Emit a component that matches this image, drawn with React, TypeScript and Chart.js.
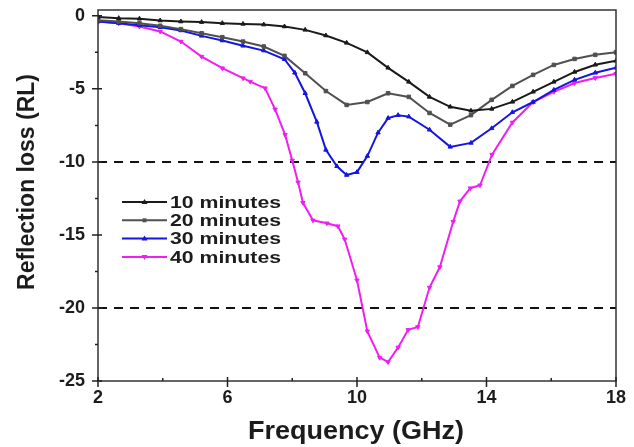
import React, { useEffect, useRef } from "react";
import { Chart, registerables } from "chart.js";

Chart.register(...registerables);

// ---- data ----
const seriesLabels = ["10 minutes", "20 minutes", "30 minutes", "40 minutes"];

const freq10 = [2.0, 2.64, 3.28, 3.92, 4.56, 5.2, 5.84, 6.48, 7.12, 7.76, 8.4, 9.04, 9.68, 10.32, 10.96, 11.6, 12.24, 12.88, 13.52, 14.16, 14.8, 15.44, 16.08, 16.72, 17.36, 18.0];
const rl10 = [-0.08, -0.16, -0.2, -0.32, -0.39, -0.43, -0.5, -0.55, -0.6, -0.73, -0.96, -1.35, -1.85, -2.5, -3.56, -4.52, -5.55, -6.23, -6.5, -6.37, -5.89, -5.2, -4.52, -3.84, -3.35, -3.08];

const freq20 = [2.0, 2.64, 3.28, 3.92, 4.56, 5.2, 5.84, 6.48, 7.12, 7.76, 8.4, 9.04, 9.68, 10.32, 10.96, 11.6, 12.24, 12.88, 13.52, 14.16, 14.8, 15.44, 16.08, 16.72, 17.36, 18.0];
const rl20 = [-0.3, -0.39, -0.5, -0.68, -0.91, -1.19, -1.46, -1.76, -2.1, -2.74, -3.93, -5.15, -6.1, -5.9, -5.3, -5.55, -6.65, -7.45, -6.8, -5.75, -4.8, -4.04, -3.36, -2.95, -2.67, -2.5];

const freq30 = [2.0, 2.64, 3.28, 3.92, 4.56, 5.2, 5.84, 6.48, 7.12, 7.76, 8.08, 8.4, 8.76, 9.04, 9.38, 9.68, 10.0, 10.32, 10.65, 10.96, 11.27, 11.6, 12.24, 12.88, 13.52, 14.16, 14.8, 15.44, 16.08, 16.72, 17.36, 18.0];
const rl30 = [-0.39, -0.5, -0.64, -0.78, -1.0, -1.37, -1.69, -2.05, -2.38, -2.97, -3.9, -5.3, -7.26, -9.18, -10.3, -10.9, -10.7, -9.6, -8.0, -7.0, -6.8, -6.9, -7.8, -8.97, -8.7, -7.7, -6.6, -5.9, -5.07, -4.38, -3.9, -3.55];

const freq40 = [2.0, 2.64, 3.28, 3.92, 4.56, 5.2, 5.84, 6.48, 6.7, 7.16, 7.47, 7.78, 8.0, 8.18, 8.33, 8.64, 9.07, 9.41, 9.62, 10.0, 10.32, 10.7, 10.96, 11.27, 11.58, 11.88, 12.24, 12.56, 12.97, 13.18, 13.5, 13.8, 14.17, 14.8, 15.44, 16.08, 16.72, 17.36, 18.0];
const rl40 = [-0.39, -0.5, -0.73, -1.07, -1.76, -2.79, -3.58, -4.27, -4.5, -4.95, -6.4, -8.15, -9.9, -11.4, -12.8, -14.0, -14.2, -14.4, -15.3, -18.1, -21.6, -23.4, -23.7, -22.7, -21.5, -21.3, -18.6, -17.2, -14.1, -12.7, -11.8, -11.6, -9.5, -7.3, -5.9, -5.2, -4.6, -4.25, -3.97];

const xTicks = [2, 6, 10, 14, 18];
const xMinorTicks = [4, 8, 12, 16];
const yTicks = [0, -5, -10, -15, -20, -25];
const yMinorTicks = [-2.5, -7.5, -12.5, -17.5, -22.5];
const thresholds = [-10, -20];

const xTitle = "Frequency (GHz)";
const yTitle = "Reflection loss (RL)";

// ---- styles ----
const FONT = "'Liberation Sans', Arial, sans-serif";
const TEXT = "#1c1c1c";
const colors = ["#1a1a1a", "#505050", "#1515e0", "#f01ef0"];
const markers = ["triangle", "rect", "triangle", "triangle"];
const rotations = [0, 0, 0, 180];

const decor = {
  id: "decor",
  beforeDatasetsDraw(chart: any) {
    const { ctx, chartArea, scales } = chart;
    ctx.save();
    ctx.strokeStyle = "#111";
    ctx.lineWidth = 2;
    ctx.setLineDash([9, 7]);
    for (const t of thresholds) {
      const y = Math.round(scales.y.getPixelForValue(t));
      ctx.beginPath();
      ctx.moveTo(chartArea.left, y);
      ctx.lineTo(chartArea.right, y);
      ctx.stroke();
    }
    ctx.restore();
  },
  afterDraw(chart: any) {
    const { ctx, chartArea, scales } = chart;
    const { left, right, top, bottom } = chartArea;
    ctx.save();
    // frame
    ctx.strokeStyle = "#333";
    ctx.lineWidth = 1.5;
    ctx.setLineDash([]);
    ctx.strokeRect(left, top, right - left, bottom - top);
    // ticks
    ctx.strokeStyle = "#222";
    ctx.lineWidth = 1.5;
    ctx.beginPath();
    for (const v of xTicks) {
      const x = scales.x.getPixelForValue(v);
      ctx.moveTo(x, bottom - 4);
      ctx.lineTo(x, bottom + 6);
    }
    for (const v of xMinorTicks) {
      const x = scales.x.getPixelForValue(v);
      ctx.moveTo(x, bottom - 3);
      ctx.lineTo(x, bottom);
    }
    for (const v of yTicks) {
      const y = scales.y.getPixelForValue(v);
      ctx.moveTo(left - 6, y);
      ctx.lineTo(left + 4, y);
    }
    for (const v of yMinorTicks) {
      const y = scales.y.getPixelForValue(v);
      ctx.moveTo(left - 3, y);
      ctx.lineTo(left, y);
    }
    ctx.stroke();

    // titles
    ctx.fillStyle = TEXT;
    ctx.textAlign = "center";
    ctx.textBaseline = "middle";
    ctx.save();
    ctx.translate(356, 432);
    ctx.scale(1.08, 1);
    ctx.font = `bold 25px ${FONT}`;
    ctx.fillText(xTitle, 0, 0);
    ctx.restore();
    ctx.save();
    ctx.translate(28, 182);
    ctx.rotate(-Math.PI / 2);
    ctx.font = `bold 23px ${FONT}`;
    ctx.fillText(yTitle, 0, 0);
    ctx.restore();

    // legend
    const lx0 = 122, lx1 = 167, ly0 = 202, step = 18.3;
    chart.data.datasets.forEach((ds: any, i: number) => {
      const y = ly0 + i * step;
      ctx.strokeStyle = colors[i];
      ctx.lineWidth = 2;
      ctx.beginPath();
      ctx.moveTo(lx0, y);
      ctx.lineTo(lx1, y);
      ctx.stroke();
      ctx.fillStyle = colors[i];
      ctx.beginPath();
      const cx = (lx0 + lx1) / 2;
      if (markers[i] === "rect") {
        ctx.rect(cx - 2, y - 2, 4, 4);
      } else if (rotations[i] === 180) {
        ctx.moveTo(cx - 3, y - 2);
        ctx.lineTo(cx + 3, y - 2);
        ctx.lineTo(cx, y + 3);
      } else {
        ctx.moveTo(cx - 3, y + 2);
        ctx.lineTo(cx + 3, y + 2);
        ctx.lineTo(cx, y - 3);
      }
      ctx.fill();
      ctx.save();
      ctx.translate(170, y + 1);
      ctx.scale(1.25, 1);
      ctx.fillStyle = TEXT;
      ctx.font = `bold 17px ${FONT}`;
      ctx.textAlign = "left";
      ctx.textBaseline = "middle";
      ctx.fillText(seriesLabels[i], 0, 0);
      ctx.restore();
    });
    ctx.restore();
  },
};

export default function App() {
  const ref = useRef<HTMLCanvasElement | null>(null);
  useEffect(() => {
    if (!ref.current) return;
    const sets = [
      [freq10, rl10],
      [freq20, rl20],
      [freq30, rl30],
      [freq40, rl40],
    ];
    const chart = new Chart(ref.current, {
      type: "line",
      data: {
        datasets: sets.map(([fx, fy], i) => ({
          label: seriesLabels[i],
          data: fx.map((x, k) => ({ x, y: fy[k] })),
          borderColor: colors[i],
          backgroundColor: colors[i],
          borderWidth: 2,
          pointStyle: markers[i] as any,
          pointRotation: rotations[i],
          pointRadius: 2.5,
          pointBorderWidth: 1,
          tension: 0,
          fill: false,
        })),
      },
      options: {
        animation: false,
        responsive: false,
        events: [],
        layout: { padding: { left: 0, right: 18, top: 10, bottom: 0 } },
        plugins: { legend: { display: false }, tooltip: { enabled: false } },
        scales: {
          x: {
            type: "linear",
            min: 2,
            max: 18,
            grid: { display: false, drawTicks: false },
            border: { display: false },
            afterBuildTicks: (s: any) => {
              s.ticks = xTicks.map((v) => ({ value: v }));
            },
            afterFit: (s: any) => {
              s.height = 66;
              s.paddingLeft = 0;
              s.paddingRight = 0;
            },
            ticks: {
              font: { family: FONT, size: 18, weight: "bold" },
              color: TEXT,
              padding: 6,
              maxRotation: 0,
              autoSkip: false,
            },
          },
          y: {
            type: "linear",
            min: -25,
            max: 0.4,
            grid: { display: false, drawTicks: false },
            border: { display: false },
            afterBuildTicks: (s: any) => {
              s.ticks = yTicks.map((v) => ({ value: v }));
            },
            afterFit: (s: any) => {
              s.width = 98;
              s.paddingTop = 0;
              s.paddingBottom = 0;
            },
            ticks: {
              font: { family: FONT, size: 18, weight: "bold" },
              color: TEXT,
              padding: 13,
              autoSkip: false,
            },
          },
        },
      },
      plugins: [decor],
    });
    return () => chart.destroy();
  }, []);
  return (
    <div style={{ position: "fixed", left: 0, top: 0, width: 634, height: 447, background: "#fff" }}>
      <canvas ref={ref} width={634} height={447} style={{ display: "block", width: 634, height: 447 }} />
    </div>
  );
}
